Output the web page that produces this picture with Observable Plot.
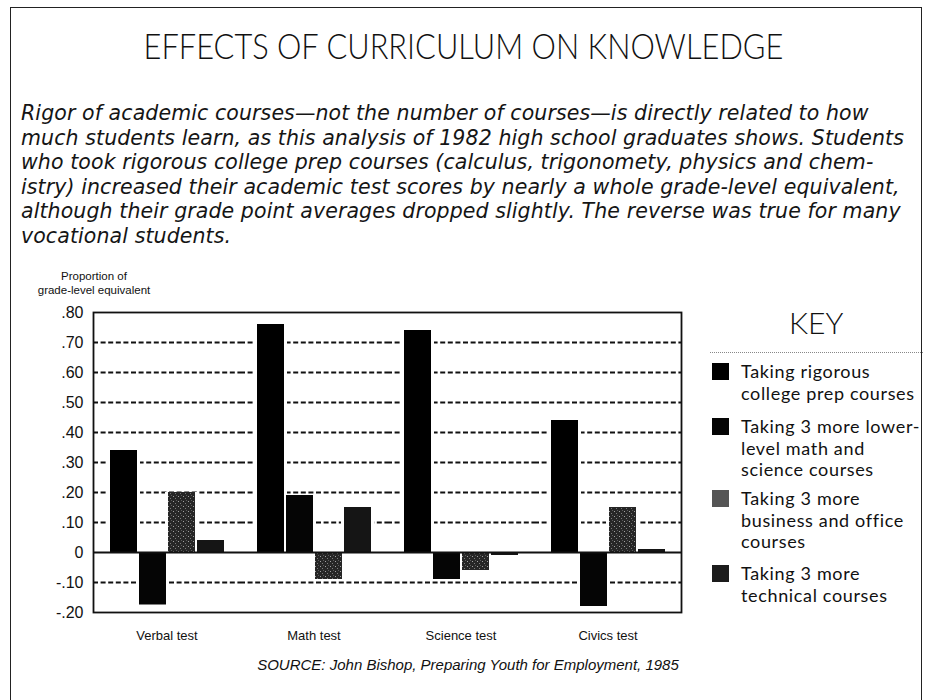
<!DOCTYPE html>
<html>
<head>
<meta charset="utf-8">
<script src="https://cdn.jsdelivr.net/npm/d3@7"></script>
<script src="https://cdn.jsdelivr.net/npm/@observablehq/plot@0.6"></script>
<style>
  body { margin: 0; background: #fff; }
  #page { position: relative; width: 926px; height: 700px; overflow: hidden; background: #fff; color: #111; font-family: Lato, "Open Sans", sans-serif; }
  #border { position: absolute; left: 10px; top: 7px; width: 912px; height: 740px; border: 1.5px solid #222; box-sizing: border-box; }
  #title { position: absolute; left: 0; top: 23.5px; width: 926px; text-align: center; font-size: 35px; line-height: 42px; height: 42px; font-weight: 300; white-space: nowrap; }
  #title span { display: inline-block; transform: scaleX(0.88); transform-origin: center; }
  #subtitle { position: absolute; left: 21px; top: 101px; font-family: "DejaVu Sans", Lato, sans-serif; font-size: 20.5px; font-style: italic; letter-spacing: 0.1px; white-space: nowrap; color: #151515; }
  #subtitle div { height: 24.5px; line-height: 24.5px; }
  #ytitle { position: absolute; left: 34px; top: 270px; width: 120px; text-align: center; font-family: "Liberation Sans", Arial, sans-serif; font-size: 11.5px; }
  #ytitle div { height: 13.5px; line-height: 13.5px; }
  #chart { position: absolute; left: 0; top: 300px; }
  #source { position: absolute; left: 0; width: 936px; top: 656px; text-align: center; font-family: "Liberation Sans", Arial, sans-serif; font-style: italic; font-size: 15px; }
  #key { position: absolute; left: 700px; top: 306px; width: 226px; }
  #keyhead { position: absolute; left: 89px; top: -2px; font-size: 30px; line-height: 36px; font-weight: 300; }
  #keyline { position: absolute; left: 10px; top: 46px; width: 213px; border-top: 1px dotted #888; }
  .kitem { position: absolute; left: 12px; }
  .ksw { position: absolute; left: 0; top: 0; width: 17px; height: 17px; }
  .ktx { position: absolute; left: 29px; top: -2px; font-family: Lato, "Open Sans", sans-serif; font-size: 18px; letter-spacing: 0.65px; white-space: nowrap; }
  .ktx div { height: 21.6px; line-height: 21.6px; }
</style>
</head>
<body>
<div id="page">
  <div id="border"></div>
  <div id="title"><span></span></div>
  <div id="subtitle"></div>
  <div id="ytitle"></div>
  <div id="chart"></div>
  <div id="key"><div id="keyhead"></div><div id="keyline"></div></div>
  <div id="source"></div>
</div>
<script>
// ---- data ----
const tests = ["Verbal test", "Math test", "Science test", "Civics test"];
const series = ["rigorous", "lowerLevel", "business", "technical"];
const rigorous   = [0.34, 0.76, 0.74, 0.44];
const lowerLevel = [-0.175, 0.19, -0.09, -0.18];
const business   = [0.20, -0.09, -0.06, 0.15];
const technical  = [0.04, 0.15, -0.01, 0.01];
const seriesColors = ["#000000", "#050505", "url(#stipple)", "#151515"];
const keySwatchColors = ["#000000", "#050505", "#555555", "#1c1c1c"];
const keyLabels = [
  ["Taking rigorous", "college prep courses"],
  ["Taking 3 more lower-", "level math and", "science courses"],
  ["Taking 3 more", "business and office", "courses"],
  ["Taking 3 more", "technical courses"]
];
const yTicks = [0.8, 0.7, 0.6, 0.5, 0.4, 0.3, 0.2, 0.1, 0, -0.1, -0.2];
const yTickLabels = [".80", ".70", ".60", ".50", ".40", ".30", ".20", ".10", "0", "-.10", "-.20"];
const gridValues = [0.7, 0.6, 0.5, 0.4, 0.3, 0.2, 0.1, -0.1];
const titleText = "EFFECTS OF CURRICULUM ON KNOWLEDGE";
const subtitleLines = [
  "Rigor of academic courses\u2014not the number of courses\u2014is directly related to how",
  "much students learn, as this analysis of 1982 high school graduates shows. Students",
  "who took rigorous college prep courses (calculus, trigonomety, physics and chem-",
  "istry) increased their academic test scores by nearly a whole grade-level equivalent,",
  "although their grade point averages dropped slightly. The reverse was true for many",
  "vocational students."
];
const yTitleLines = ["Proportion of", "grade-level equivalent"];
const sourceText = "SOURCE: John Bishop, Preparing Youth for Employment, 1985";
const keyTitle = "KEY";

// ---- table ----
const valuesBySeries = {rigorous, lowerLevel, business, technical};
const rows = [];
tests.forEach((t, i) => series.forEach(s => rows.push({test: t, series: s, value: valuesBySeries[s][i]})));
const tickLabel = new Map(yTicks.map((v, i) => [v.toFixed(2), yTickLabels[i]]));

// ---- text ----
document.querySelector("#title span").textContent = titleText;
document.getElementById("subtitle").innerHTML = subtitleLines.map(l => `<div>${l}</div>`).join("");
document.getElementById("ytitle").innerHTML = yTitleLines.map(l => `<div>${l}</div>`).join("");
document.getElementById("source").textContent = sourceText;
document.getElementById("keyhead").textContent = keyTitle;
const keyTops = [57, 112, 184, 259];
const key = document.getElementById("key");
keyLabels.forEach((lines, i) => {
  const it = document.createElement("div");
  it.className = "kitem";
  it.style.top = keyTops[i] + "px";
  it.innerHTML = `<div class="ksw" style="background:${keySwatchColors[i]}"></div><div class="ktx">${lines.map(l => `<div>${l}</div>`).join("")}</div>`;
  key.appendChild(it);
});

// ---- chart ----
const chart = Plot.plot({
  width: 700,
  height: 352,
  marginLeft: 91,
  marginRight: 18,
  marginTop: 12,
  marginBottom: 40,
  style: {fontFamily: "'Liberation Sans', Arial, sans-serif", background: "transparent", color: "#111"},
  fx: {domain: tests, padding: 0, label: null, tickSize: 0, tickPadding: 18},
  x: {domain: series, paddingInner: 0.075, paddingOuter: 0.57, axis: null},
  y: {domain: [-0.2, 0.8], ticks: yTicks, tickSize: 0, tickPadding: 10, label: null,
      tickFormat: d => tickLabel.get(d.toFixed(2))},
  color: {domain: series, range: seriesColors},
  marks: [
    Plot.ruleY(gridValues, {stroke: "#111", strokeWidth: 1.8, strokeDasharray: "5,2.6"}),
    Plot.barY(rows, {fx: "test", x: "series", y: "value", fill: "white", insetLeft: -3, insetRight: -3}),
    Plot.barY(rows, {fx: "test", x: "series", y: "value", fill: "series"}),
    Plot.ruleY([0], {stroke: "#111", strokeWidth: 2}),
    Plot.frame({stroke: "#111", strokeWidth: 1.8, facet: "super"})
  ]
});
// stipple texture for the business-course bars
const ns = "http://www.w3.org/2000/svg";
const defs = document.createElementNS(ns, "defs");
defs.innerHTML = `<pattern id="stipple" width="5" height="5" patternUnits="userSpaceOnUse">
  <rect width="5" height="5" fill="#262626"/>
  <rect x="1" y="1" width="1" height="1" fill="#a0a0a0"/>
  <rect x="3" y="3" width="1" height="1" fill="#7a7a7a"/>
  <rect x="4" y="0" width="1" height="1" fill="#5a5a5a"/>
</pattern>`;
chart.insertBefore(defs, chart.firstChild);
chart.querySelectorAll("g[aria-label='y-axis tick label']").forEach(e => e.setAttribute("font-size", "16"));
chart.querySelectorAll("g[aria-label='fx-axis tick label']").forEach(e => e.setAttribute("font-size", "13"));
document.getElementById("chart").appendChild(chart);
</script>
</body>
</html>
